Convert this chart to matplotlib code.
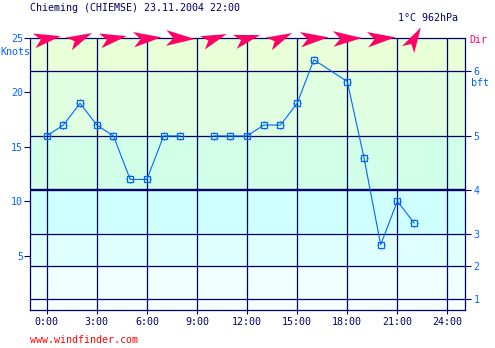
import numpy as np
import matplotlib
matplotlib.use("Agg")
import matplotlib.pyplot as plt
from matplotlib.path import Path

# Hourly wind speed (knots); hour 9 has no reading, hour 17 not reported
hours = [0, 1, 2, 3, 4, 5, 6, 7, 8, 9, 10, 11, 12, 13, 14, 15, 16, 18, 19, 20, 21, 22]
knots = [16, 17, 19, 17, 16, 12, 12, 16, 16, np.nan, 16, 16, 16, 17, 17, 19, 23, 21, 14, 6, 10, 8]

# Wind direction (degrees, direction the wind comes from) every two hours
dir_hours = [0, 2, 4, 6, 8, 10, 12, 14, 16, 18, 20, 22]
dir_from = [260, 245, 260, 265, 272, 250, 255, 245, 265, 268, 265, 210]

# Beaufort scale boundaries in knots
bft_edges = [0, 1, 4, 7, 11, 16, 22, 25]
bft_labels = ["1", "2", "3", "4", "5", "6"]
band_colors = ["#f6ffff", "#f0ffff", "#e0ffff", "#d0ffff",
               "#d2ffe8", "#e0ffe0", "#e8ffd8"]

x_ticks = list(range(0, 25, 3))
x_labels = ["%d:00" % h for h in x_ticks]
y_ticks = [5, 10, 15, 20, 25]

NAVY = "#000066"
BLUE = "#0066ff"
PINK = "#ff0066"
FS = 7.2
plt.rcParams["font.family"] = ["DejaVu Sans Mono", "DejaVu Sans"]

fig = plt.figure(figsize=(4.95, 3.48), dpi=100)
ax = fig.add_axes([30 / 495, 1 - 310 / 348, 435 / 495, 272 / 348])
ax.set_xlim(-1, 25.05)
ax.set_ylim(0, 25)

for lo, hi, c in zip(bft_edges[:-1], bft_edges[1:], band_colors):
    ax.axhspan(lo, hi, color=c, lw=0, zorder=0)

for h in x_ticks:
    ax.axvline(h, color=NAVY, lw=0.9, zorder=1)
for b in bft_edges[1:-1]:
    ax.axhline(b, color=NAVY, lw=1.7 if b == 11 else 0.9, zorder=1)

# point marker: open square with small stubs on each side
mk = Path([(-3, -3), (3, -3), (3, 3), (-3, 3), (-3, -3),
           (3, 0), (4.2, 0), (-3, 0), (-4.2, 0),
           (0, 3), (0, 4.2), (0, -3), (0, -4.2)],
          [Path.MOVETO, Path.LINETO, Path.LINETO, Path.LINETO, Path.CLOSEPOLY,
           Path.MOVETO, Path.LINETO, Path.MOVETO, Path.LINETO,
           Path.MOVETO, Path.LINETO, Path.MOVETO, Path.LINETO])
ax.plot(hours, knots, color=BLUE, lw=0.8, marker=mk, ms=6.2,
        mfc="none", mec=BLUE, mew=0.9, zorder=3)

# direction darts along the top edge
for h, d in zip(dir_hours, dir_from):
    a = np.deg2rad(90 - (d - 180))
    base = np.array([[1, 0], [-1, 0.55], [-0.5, 0], [-1, -0.55], [1, 0]])
    rot = np.array([[np.cos(a), -np.sin(a)], [np.sin(a), np.cos(a)]])
    verts = base @ rot.T
    ax.plot(h, 25, marker=Path(verts, closed=True), ms=21, color=PINK,
            mec=PINK, mew=0, clip_on=False, zorder=5, ls="none")

for s in ax.spines.values():
    s.set_color(NAVY)
    s.set_linewidth(0.9)
    s.set_zorder(4)

ax.set_xticks(x_ticks)
ax.set_xticklabels(x_labels)
ax.set_yticks(y_ticks)
ax.tick_params(axis="x", colors=NAVY, labelsize=FS, length=3, width=0.8, pad=2)
ax.tick_params(axis="y", colors=NAVY, labelcolor=BLUE, labelsize=FS,
               length=4, width=0.8, pad=1)

ax2 = ax.twinx()
ax2.set_ylim(0, 25)
ax2.set_yticks(bft_edges[1:-1])
ax2.set_yticklabels(bft_labels)
ax2.tick_params(axis="y", colors=NAVY, labelcolor=BLUE, labelsize=FS,
                length=4, width=0.8, pad=2)
for s in ax2.spines.values():
    s.set_visible(False)

fig.text(30 / 495, 1 - 8 / 348, "Chieming (CHIEMSE) 23.11.2004 22:00",
         color=NAVY, fontsize=FS, va="center", ha="left")
fig.text(398 / 495, 1 - 18 / 348, "1°C 962hPa", color=NAVY, fontsize=FS,
         va="center", ha="left")
fig.text(469 / 495, 1 - 40 / 348, "Dir", color=PINK, fontsize=FS,
         va="center", ha="left")
fig.text(0, 1 - 52 / 348, "Knots", color=BLUE, fontsize=FS,
         va="center", ha="left")
fig.text(471 / 495, 1 - 83 / 348, "bft", color=BLUE, fontsize=FS,
         va="center", ha="left")
fig.text(30 / 495, 1 - 340 / 348, "www.windfinder.com", color="#ff0000",
         fontsize=FS, va="center", ha="left")

fig.savefig("out.png", dpi=100, facecolor="white")
